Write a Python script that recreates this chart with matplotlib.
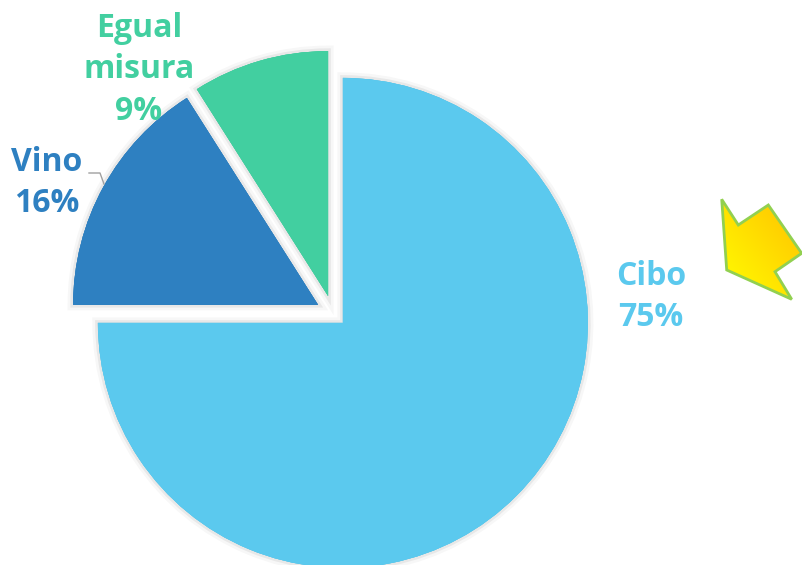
import numpy as np
import matplotlib.pyplot as plt
import matplotlib.patheffects as pe
from matplotlib.patches import Polygon
from matplotlib.colors import LinearSegmentedColormap

# Dati
categorie = ['Cibo', 'Vino', 'Egual\nmisura']
percentuali = [75, 16, 9]
colori = ['#5BC9EE', '#2E80C1', '#42CFA0']
esplosione = [14, 17, 17.6]  # in pixel (unità dati)

W, H = 802, 565
fig = plt.figure(figsize=(W / 100, H / 100), dpi=100)
ax = fig.add_axes([0, 0, 1, 1])

# torta in coordinate pixel (y verso l'alto)
wedges, _ = ax.pie(percentuali, colors=colori, startangle=90, counterclock=False,
                   explode=esplosione, center=(333, H - 313), radius=245, frame=True,
                   wedgeprops=dict(linewidth=0))
for w in wedges:
    w.set_path_effects([pe.withStroke(linewidth=8, foreground='#000000', alpha=0.03),
                        pe.withStroke(linewidth=4, foreground='#000000', alpha=0.06),
                        pe.Normal()])
ax.set_xlim(0, W)
ax.set_ylim(0, H)
ax.set_aspect('equal')
ax.axis('off')

# etichette
fnt = dict(family=['Open Sans', 'DejaVu Sans'], fontweight='bold', fontsize=23,
           ha='center', va='center', linespacing=1.35)
ax.text(651, H - 297, f'{categorie[0]}\n{percentuali[0]}%', color=colori[0], **fnt)
ax.text(47, H - 183, f'{categorie[1]}\n{percentuali[1]}%', color=colori[1], **fnt)
ax.text(139, H - 70, f'{categorie[2]}\n{percentuali[2]}%', color=colori[2], **fnt)

# linea guida Vino
ax.plot([89, 100, 104], [H - 173, H - 173, H - 184], color='#A0A0A0', lw=1)

# freccia gialla con gradiente
punti = np.array([(721.7, 199.3), (738.3, 225), (768.3, 205), (801.7, 253.3),
                  (775, 271.7), (791.7, 299.3), (726.7, 270)])
punti[:, 1] = H - punti[:, 1]
freccia = Polygon(punti, closed=True, facecolor='none', edgecolor='#92D050', lw=2,
                  joinstyle='miter', zorder=5)
ax.add_patch(freccia)
gx, gy = np.meshgrid(np.linspace(0, 1, 200), np.linspace(0, 1, 200))
grad = (gx + gy) / 2
cm = LinearSegmentedColormap.from_list('giallo', ['#FFFF00', '#FFC000'])
im = ax.imshow(grad, cmap=cm, origin='lower', zorder=4,
               extent=(punti[:, 0].min(), punti[:, 0].max(), punti[:, 1].min(), punti[:, 1].max()),
               aspect='auto')
im.set_clip_path(Polygon(punti, closed=True, transform=ax.transData))
ax.set_xlim(0, W)
ax.set_ylim(0, H)

fig.savefig('out.png', dpi=100)
